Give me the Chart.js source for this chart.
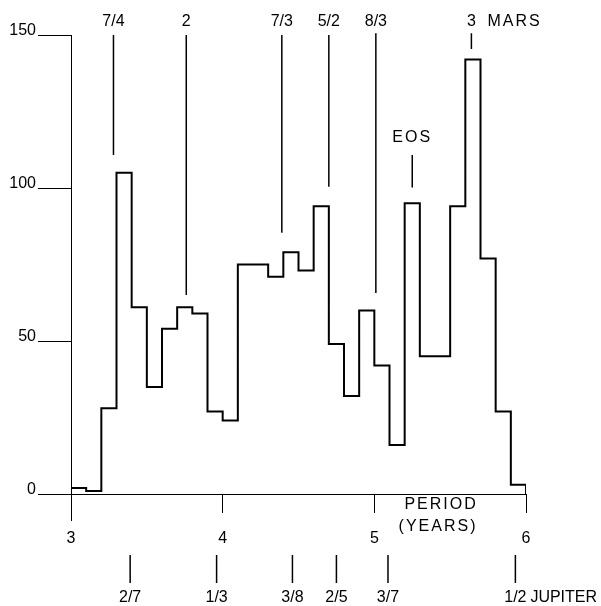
<!DOCTYPE html>
<html>
<head>
<meta charset="utf-8">
<script src="https://cdn.jsdelivr.net/npm/chart.js@4"></script>
<style>
  html, body { margin: 0; padding: 0; background: #fff; }
</style>
</head>
<body>
<canvas id="periodChart" width="601" height="606"></canvas>
<script>
// number of asteroids in each 0.1 yr period bin
const binStarts = [3.0, 3.1, 3.2, 3.3, 3.4, 3.5, 3.6, 3.7, 3.8, 3.9,
                   4.0, 4.1, 4.2, 4.3, 4.4, 4.5, 4.6, 4.7, 4.8, 4.9,
                   5.0, 5.1, 5.2, 5.3, 5.4, 5.5, 5.6, 5.7, 5.8, 5.9];
const counts = [2, 1, 28, 105, 61, 35, 54, 61, 59, 27,
                24, 75, 75, 71, 79, 73, 94, 49, 32, 60,
                42, 16, 95, 45, 45, 94, 142, 77, 27, 3];
const binEnd = 6.0;

const xTicks = [3, 4, 5, 6];
const yTicks = [0, 50, 100, 150];

// commensurabilities with Mars (top)
const marsLabels = ["7/4", "2", "7/3", "5/2", "8/3", "3"];
const marsPeriods = [3.28, 3.76, 4.39, 4.70, 5.01, 5.64];
const marsLineTop = [150, 150, 150, 150, 150.6, 150.6];
const marsLineBottom = [110.8, 65, 85.4, 100.4, 65.7, 145.4];

// Eos family
const eosPeriod = 5.25;
const eosLine = [110.8, 100.2];

// commensurabilities with Jupiter (bottom)
const jupiterLabels = ["2/7", "1/3", "3/8", "2/5", "3/7", "1/2"];
const jupiterPeriods = [3.39, 3.96, 4.46, 4.75, 5.09, 5.93];

const FONT = "'Liberation Sans', Arial, sans-serif";

// histogram outline: each count runs from its bin start to the next edge
const histPoints = [{ x: binStarts[0], y: counts[0] }];
binStarts.forEach((b, i) => {
  if (i > 0) histPoints.push({ x: b, y: counts[i - 1] });
  histPoints.push({ x: b, y: counts[i] });
});
histPoints.push({ x: binEnd, y: counts[counts.length - 1] });
histPoints.push({ x: binEnd, y: 0 });

const datasets = [{
  data: histPoints,
  borderColor: "#000",
  borderWidth: 2,
  pointRadius: 0,
  fill: false
}];

marsPeriods.forEach((p, i) => {
  datasets.push({
    data: [{ x: p, y: marsLineTop[i] }, { x: p, y: marsLineBottom[i] }],
    borderColor: "#000",
    borderWidth: 1.5,
    pointRadius: 0,
    clip: false
  });
});
datasets.push({
  data: [{ x: eosPeriod, y: eosLine[0] }, { x: eosPeriod, y: eosLine[1] }],
  borderColor: "#000",
  borderWidth: 1.5,
  pointRadius: 0,
  clip: false
});

const annotate = {
  id: "annotate",
  afterDraw(chart) {
    const { ctx, chartArea } = chart;
    const x = chart.scales.x, y = chart.scales.y;
    ctx.save();
    ctx.fillStyle = "#000";
    ctx.strokeStyle = "#000";
    ctx.font = "16px " + FONT;
    ctx.textAlign = "center";
    ctx.textBaseline = "middle";

    // y axis runs a little further down at 3
    ctx.lineWidth = 1;
    ctx.beginPath();
    ctx.moveTo(x.getPixelForValue(xTicks[0]) + 0.5, chartArea.bottom);
    ctx.lineTo(x.getPixelForValue(xTicks[0]) + 0.5, chartArea.bottom + 27);
    ctx.stroke();

    // Mars labels across the top
    marsLabels.forEach((lab, i) => {
      ctx.fillText(lab, x.getPixelForValue(marsPeriods[i]), chartArea.top - 13);
    });
    ctx.textAlign = "left";
    ctx.letterSpacing = "2px";
    ctx.fillText("MARS", x.getPixelForValue(marsPeriods[5]) + 16, chartArea.top - 13);

    // Eos
    ctx.textAlign = "center";
    ctx.fillText("EOS", x.getPixelForValue(eosPeriod), y.getPixelForValue(eosLine[0]) - 17);

    // axis title
    ctx.fillText("PERIOD", x.getPixelForValue(5.44), chartArea.bottom + 11);
    ctx.fillText("(YEARS)", x.getPixelForValue(5.42), chartArea.bottom + 33);
    ctx.letterSpacing = "0px";

    // Jupiter marks below the axis
    ctx.lineWidth = 1.5;
    jupiterPeriods.forEach((p, i) => {
      const px = x.getPixelForValue(p);
      ctx.beginPath();
      ctx.moveTo(px, chartArea.bottom + 61);
      ctx.lineTo(px, chartArea.bottom + 89);
      ctx.stroke();
      ctx.fillText(jupiterLabels[i], px, chartArea.bottom + 104);
    });
    ctx.textAlign = "left";
    ctx.fillText("JUPITER", x.getPixelForValue(jupiterPeriods[5]) + 15, chartArea.bottom + 104);
    ctx.restore();
  }
};

new Chart(document.getElementById("periodChart"), {
  type: "line",
  data: { datasets },
  options: {
    responsive: false,
    devicePixelRatio: 1,
    animation: false,
    layout: { padding: { top: 35, right: 75, left: 0, bottom: 0 } },
    plugins: { legend: { display: false }, tooltip: { enabled: false } },
    scales: {
      x: {
        type: "linear",
        min: 3,
        max: 6,
        afterBuildTicks: (s) => { s.ticks = xTicks.map(v => ({ value: v })); },
        afterFit: (s) => { s.height = 112; },
        ticks: { color: "#000", font: { family: FONT, size: 16 }, padding: 16, maxRotation: 0 },
        grid: { drawOnChartArea: false, color: "#000", tickLength: 19, lineWidth: 1 },
        border: { color: "#000", width: 1 }
      },
      y: {
        min: 0,
        max: 150,
        afterBuildTicks: (s) => { s.ticks = yTicks.map(v => ({ value: v })); },
        afterFit: (s) => { s.width = 71; },
        ticks: { color: "#000", font: { family: FONT, size: 16 }, padding: 2, labelOffset: -4 },
        grid: { drawOnChartArea: false, color: "#000", tickLength: 33, lineWidth: 1 },
        border: { color: "#000", width: 1 }
      }
    }
  },
  plugins: [annotate]
});
</script>
</body>
</html>
